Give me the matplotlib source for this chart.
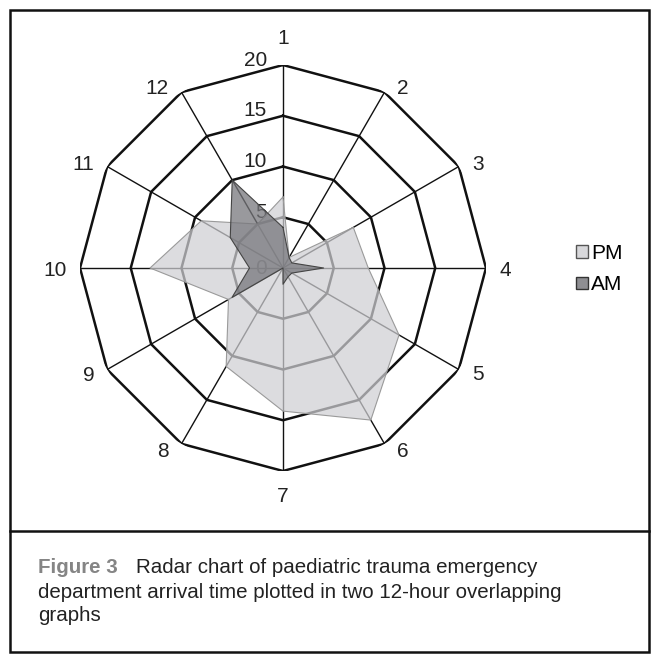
import numpy as np
import matplotlib
matplotlib.use('Agg')
import matplotlib.pyplot as plt
from matplotlib.patches import Rectangle
from matplotlib.lines import Line2D

# hours on the clock face
hours = ['1', '2', '3', '4', '5', '6', '7', '8', '9', '10', '11', '12']
pm = [7, 1.2, 8, 8.4, 13.2, 17.3, 14.1, 11.2, 6.2, 13.1, 9.3, 5]
am = [4, 1.2, 1, 4, 1, 1, 1.6, 0, 5.8, 3.3, 6, 10]
rings = [0, 5, 10, 15, 20]

plt.rcParams['font.family'] = ['Liberation Sans', 'DejaVu Sans']

fig = plt.figure(figsize=(6.56, 6.55), dpi=100)
ax = fig.add_axes([80/656, 1 - 471/655, 406/656, 406/655], projection='polar')
ax.set_theta_zero_location('N')
ax.set_theta_direction(-1)

theta = np.arange(len(hours)) * 2 * np.pi / len(hours)
tc = np.append(theta, theta[0])

#---------------- grid (dodecagons + spokes) ----------------
for r in rings[1:]:
    ax.plot(tc, [r] * len(tc), color='#111111', lw=1.8, zorder=1)
for t in theta:
    ax.plot([t, t], [0, rings[-1]], color='#111111', lw=1.0, zorder=1)

# radial value labels, left of the top spoke
for r in rings:
    ax.annotate(str(r), xy=(0, r), xytext=(-16, 5 if r else 0), textcoords='offset pixels',
                ha='right', va='center', fontsize=15, color='#222222', zorder=1)

#---------------- series ----------------
ax.fill(tc, np.append(pm, pm[0]), facecolor='#cfcfd3', alpha=0.72,
        edgecolor='none', zorder=2, label='PM')
ax.plot(tc, np.append(pm, pm[0]), color='#9a9a9a', lw=0.8, zorder=2)
ax.fill(tc, np.append(am, am[0]), facecolor='#77777c', alpha=0.75,
        edgecolor='none', zorder=3, label='AM')
ax.plot(tc, np.append(am, am[0]), color='#444444', lw=0.8, zorder=3)

# category labels outside the outer ring
for t, h in zip(theta, hours):
    s, c = np.sin(t), np.cos(t)
    if abs(s) < 0.01:
        off, ha = (0, 26 * c), 'center'
    else:
        off, ha = (13 * np.sign(s), -(2 - 7 * c)), ('left' if s > 0 else 'right')
    ax.annotate(h, xy=(t, rings[-1]), xytext=off, textcoords='offset pixels',
                ha=ha, va='center', fontsize=15, color='#222222')

ax.set_ylim(0, 20)
ax.set_xticks([])
ax.set_yticks([])
ax.grid(False)
ax.spines['polar'].set_visible(False)
ax.patch.set_visible(False)

handles = [Rectangle((0, 0), 1, 1, facecolor='#d8d8db', edgecolor='#555555', lw=1),
           Rectangle((0, 0), 1, 1, facecolor='#8e8e92', edgecolor='#333333', lw=1)]
fig.legend(handles, ['PM', 'AM'], loc='center left', bbox_to_anchor=(566/656, 1 - 269/655),
           frameon=False, fontsize=15, handlelength=0.55, handleheight=0.55,
           handletextpad=0.15, labelspacing=0.6, borderpad=0)

#---------------- frame + caption ----------------
fig.add_artist(Rectangle((10/656, 3/655), 639/656, 642/655, transform=fig.transFigure,
                         fill=False, edgecolor='#111111', lw=1.8))
fig.add_artist(Line2D([10/656, 649/656], [1 - 531/655, 1 - 531/655], transform=fig.transFigure,
                      color='#111111', lw=1.8))

fig.text(38/656, 1 - 573/655, 'Figure 3', fontsize=14.8, color='#858585', weight='bold',
         va='baseline')
fig.text(136/656, 1 - 573/655, 'Radar chart of paediatric trauma emergency',
         fontsize=14.8, color='#222222', va='baseline')
fig.text(38/656, 1 - 597.5/655, 'department arrival time plotted in two 12-hour overlapping',
         fontsize=14.8, color='#222222', va='baseline')
fig.text(38/656, 1 - 621/655, 'graphs', fontsize=14.8, color='#222222', va='baseline')

fig.savefig('out.png', dpi=100)
